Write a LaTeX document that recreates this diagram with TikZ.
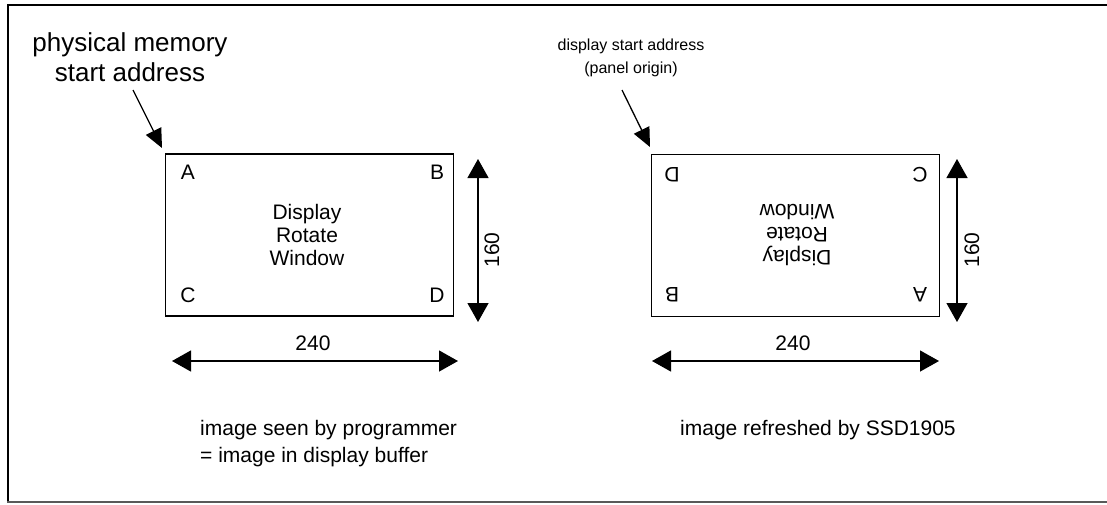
\documentclass[tikz,border=0pt]{standalone}
\usepackage{fontspec}
\setmainfont{Liberation Sans}
\usetikzlibrary{arrows.meta}
\tikzset{
  x=1pt, y=-1pt,
  frameline/.style={line width=1.4pt, line cap=rect},
  winbox/.style={draw, line width=1.8pt, rectangle, inner sep=0pt, minimum width=288pt, minimum height=162pt},
  lbl/.style={inner sep=0pt, font=\fontsize{21}{23}\selectfont},
  cornerlbl/.style={lbl},
  dimarrow/.style={line width=1.3pt, {Triangle[length=19pt,width=21pt]}-{Triangle[length=19pt,width=21pt]}},
  ptrarrow/.style={line width=1.3pt, -{Triangle[length=19pt,width=17pt]}},
}
\begin{document}
\begin{tikzpicture}
\useasboundingbox (0,0) rectangle (1107,504);
% frame
\draw[frameline] (1107,5) -- (8,5) -- (8,502);
\draw[frameline, draw=black!65] (8,502) -- (1107,502);

% ---------- left panel ----------
\node[winbox] (boxL) at (309.5,235) {};
\node[cornerlbl] (LA) at (188,172) {A};
\node[cornerlbl] (LB) at (437,172) {B};
\node[cornerlbl] (LC) at (188,295) {C};
\node[cornerlbl] (LD) at (437,295) {D};
\node[lbl, align=center] (Ltxt) at (307,235) {Display\\Rotate\\Window};

\coordinate (Lv1) at (478,159);
\coordinate (Lv2) at (478,322);
\draw[dimarrow] (Lv1) -- (Lv2);
\node[lbl, rotate=90] (L160) at (492,250) {160};

\coordinate (Lh1) at (172,361);
\coordinate (Lh2) at (458,361);
\draw[dimarrow] (Lh1) -- (Lh2);
\node[lbl] (L240) at (313,343) {240};

\node[inner sep=0pt, align=center, font=\fontsize{26}{30}\selectfont] (Lstart) at (130,57) {physical memory\\start address};
\coordinate (Lp1) at (133,90);
\coordinate (Lp2) at (162,148);
\draw[ptrarrow] (Lp1) -- (Lp2);

\node[lbl, anchor=west] (Lcap1) at (200,430) {image seen by programmer};
\node[lbl, anchor=west] (Lcap2) at (200,457) {= image in display buffer};

% ---------- right panel ----------
\node[winbox] (boxR) at (795.5,235.5) {};
\node[cornerlbl, rotate=180] (RD) at (672,175) {D};
\node[cornerlbl, rotate=180] (RC) at (920,175) {C};
\node[cornerlbl, rotate=180] (RB) at (672,295) {B};
\node[cornerlbl, rotate=180] (RA) at (920,295) {A};
\node[lbl, align=center, rotate=180] (Rtxt) at (797,235) {Display\\Rotate\\Window};

\coordinate (Rv1) at (957,159);
\coordinate (Rv2) at (957,322);
\draw[dimarrow] (Rv1) -- (Rv2);
\node[lbl, rotate=90] (R160) at (972,250) {160};

\coordinate (Rh1) at (652,361);
\coordinate (Rh2) at (939,361);
\draw[dimarrow] (Rh1) -- (Rh2);
\node[lbl] (R240) at (793,343) {240};

\node[inner sep=0pt, align=center, font=\fontsize{16}{23}\selectfont] (Rstart) at (631,58) {display start address\\(panel origin)};
\coordinate (Rp1) at (622,90);
\coordinate (Rp2) at (650,147);
\draw[ptrarrow] (Rp1) -- (Rp2);

\node[lbl, anchor=west] (Rcap) at (680,430) {image refreshed by SSD1905};
\end{tikzpicture}
\end{document}
